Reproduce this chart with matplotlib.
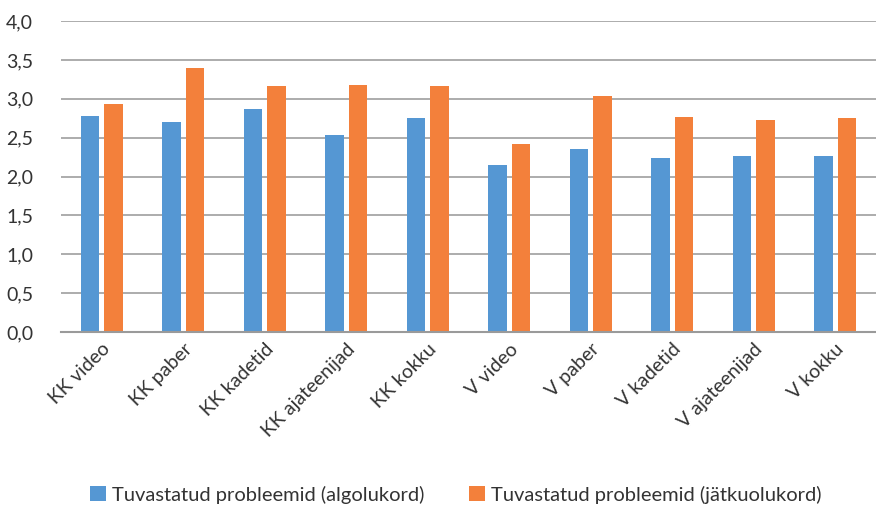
import matplotlib
matplotlib.use("Agg")
import matplotlib.pyplot as plt
import numpy as np
from matplotlib.ticker import FuncFormatter

categories = ["KK video", "KK paber", "KK kadetid", "KK ajateenijad", "KK kokku",
              "V video", "V paber", "V kadetid", "V ajateenijad", "V kokku"]
algolukord = [2.78, 2.70, 2.87, 2.54, 2.75, 2.15, 2.36, 2.24, 2.26, 2.26]
jatkuolukord = [2.93, 3.39, 3.16, 3.18, 3.17, 2.42, 3.03, 2.76, 2.73, 2.75]
series_names = ["Tuvastatud probleemid (algolukord)", "Tuvastatud probleemid (jätkuolukord)"]
yticks = [0.0, 0.5, 1.0, 1.5, 2.0, 2.5, 3.0, 3.5, 4.0]

plt.rcParams['font.family'] = ['Lato', 'DejaVu Sans']

fig = plt.figure(figsize=(8.76, 5.09), dpi=100)
ax = fig.add_axes([0.0696, 0.3477, 0.9304, 0.611])

x = np.arange(len(categories))
w = 0.225
gap = 0.06
ax.bar(x - w/2 - gap/2, algolukord, width=w, color="#5597D3", label=series_names[0], zorder=3)
ax.bar(x + w/2 + gap/2, jatkuolukord, width=w, color="#F3803B", label=series_names[1], zorder=3)

ax.set_xlim(-0.5, len(categories) - 0.5)
ax.set_ylim(0, 4.0)
ax.set_yticks(yticks)
ax.yaxis.set_major_formatter(FuncFormatter(lambda v, p: f"{v:.1f}".replace(".", ",")))
ax.grid(axis='y', color="#a6a6a6", linewidth=1.3, zorder=0)
for s in ["top", "right", "left"]:
    ax.spines[s].set_visible(False)
ax.spines["bottom"].set_color("#9a9a9a")
ax.spines["bottom"].set_linewidth(1.5)
ax.spines["bottom"].set_zorder(4)
ax.tick_params(axis='y', length=0, pad=20, labelsize=14, labelcolor="#333333")
ax.tick_params(axis='x', length=0, pad=6, labelsize=14, labelcolor="#333333")
ax.set_xticks(x)
ax.set_xticklabels(categories, rotation=45, ha='right', rotation_mode='anchor')

fig.legend(loc='center', bbox_to_anchor=(0.52, 0.028), ncol=2, frameon=False,
           fontsize=14.5, handlelength=0.8, handleheight=0.8, handletextpad=0.3,
           columnspacing=2.2, labelcolor="#333333")

fig.savefig("out.png", dpi=100)
